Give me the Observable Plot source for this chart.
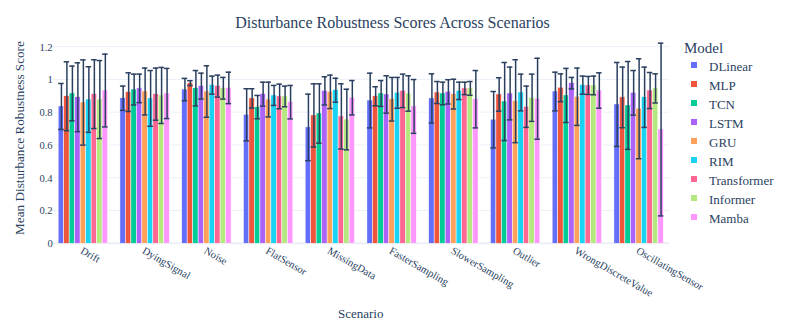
<!DOCTYPE html>
<html><head><meta charset="utf-8">
<script src="https://cdn.jsdelivr.net/npm/d3@7"></script>
<script src="https://cdn.jsdelivr.net/npm/@observablehq/plot@0.6"></script>
<style>body{margin:0;background:#fff} #chart{width:785px;height:327px}</style>
</head><body><div id="chart"></div>
<script>
const scenarios = ["Drift","DyingSignal","Noise","FlatSensor","MissingData","FasterSampling","SlowerSampling","Outlier","WrongDiscreteValue","OscillatingSensor"];
const models = ["DLinear","MLP","TCN","LSTM","GRU","RIM","Transformer","Informer","Mamba"];
const colors = ["#636efa","#EF553B","#00cc96","#ab63fa","#FFA15A","#19d3f3","#FF6692","#B6E880","#FF97FF"];
const yTicks = [0,0.2,0.4,0.6,0.8,1,1.2];
// mean score per scenario (rows) and model (columns)
const means = [
  [0.838,0.900,0.917,0.894,0.862,0.880,0.913,0.880,0.935],
  [0.888,0.925,0.941,0.948,0.929,0.887,0.913,0.905,0.917],
  [0.941,0.980,0.949,0.962,0.929,0.968,0.962,0.949,0.951],
  [0.787,0.887,0.834,0.913,0.880,0.905,0.899,0.899,0.864],
  [0.710,0.783,0.795,0.933,0.927,0.937,0.777,0.758,0.891],
  [0.874,0.900,0.917,0.911,0.882,0.921,0.933,0.917,0.838],
  [0.887,0.923,0.917,0.927,0.913,0.933,0.948,0.948,0.882],
  [0.757,0.911,0.868,0.917,0.870,0.923,0.836,0.891,0.885],
  [0.929,0.952,0.905,0.980,0.897,0.968,0.966,0.966,0.935],
  [0.850,0.893,0.844,0.921,0.824,0.894,0.935,0.948,0.697]
];
// standard deviation (error bar half-length)
const errs = [
  [0.140,0.210,0.167,0.210,0.260,0.200,0.210,0.238,0.222],
  [0.074,0.118,0.094,0.087,0.143,0.170,0.159,0.171,0.153],
  [0.068,0.015,0.108,0.079,0.157,0.055,0.067,0.066,0.096],
  [0.159,0.059,0.071,0.073,0.106,0.061,0.075,0.063,0.102],
  [0.203,0.193,0.181,0.086,0.102,0.073,0.199,0.185,0.105],
  [0.167,0.058,0.079,0.114,0.133,0.094,0.102,0.108,0.164],
  [0.150,0.067,0.069,0.074,0.091,0.053,0.038,0.042,0.175],
  [0.172,0.102,0.238,0.161,0.253,0.112,0.126,0.144,0.247],
  [0.118,0.085,0.165,0.035,0.175,0.055,0.055,0.057,0.108],
  [0.256,0.185,0.268,0.136,0.305,0.184,0.110,0.089,0.527]
];

const data = scenarios.flatMap((s,i) => models.map((m,j) => ({scenario:s, model:m, mean:means[i][j], err:errs[i][j]})));
const font = "'Liberation Serif','Times New Roman',serif";
const ink = "#2a3f5f";
const W = 785, H = 327, ML = 52, MR = 115.5, MT = 38.4, MB = 83.7;

const chart = Plot.plot({
  width: W, height: H, marginLeft: ML, marginRight: MR, marginTop: MT, marginBottom: MB,
  style: {fontFamily: font, fontSize: "10.6px", color: ink, background: "#fff"},
  fx: {domain: scenarios, paddingInner: 0.2, paddingOuter: 0.1, round: false, axis: null},
  x: {domain: models, padding: 0, round: false, axis: null},
  y: {domain: [0, 1.25], ticks: yTicks, tickFormat: d3.format("~g"), tickSize: 0, tickPadding: 6, label: null},
  color: {domain: models, range: colors},
  marks: [
    Plot.axisFx({anchor: "bottom", tickRotate: 30, tickSize: 0, tickPadding: 6, dx: -2, label: null}),
    Plot.barY(data, {fx: "scenario", x: "model", y: "mean", fill: "model", stroke: "white", strokeWidth: 0.5}),
    Plot.ruleX(data, {fx: "scenario", x: "model", y1: d => d.mean - d.err, y2: d => d.mean + d.err, stroke: ink, strokeWidth: 1.5}),
    Plot.tickY(data, {fx: "scenario", x: "model", y: d => d.mean + d.err, stroke: ink, strokeWidth: 1.5}),
    Plot.tickY(data, {fx: "scenario", x: "model", y: d => d.mean - d.err, stroke: ink, strokeWidth: 1.5})
  ]
});

const svg = d3.select(chart);
const y = chart.scale("y");
// full-width grid lines behind everything
const grid = svg.insert("g", ":first-child");
yTicks.forEach(t => {
  grid.append("line").attr("x1", ML).attr("x2", W - MR)
    .attr("y1", y.apply(t)).attr("y2", y.apply(t))
    .attr("stroke", "#ebf0f8").attr("stroke-width", t === 0 ? 2 : 1);
});
svg.selectAll("text").attr("fill", ink);

// title
svg.append("text").attr("x", W/2).attr("y", 28).attr("text-anchor", "middle")
  .attr("font-family", font).attr("font-size", 16).attr("fill", ink)
  .text("Disturbance Robustness Scores Across Scenarios");
// axis titles
svg.append("text").attr("transform", "translate(24,138) rotate(-90)").attr("text-anchor", "middle")
  .attr("font-family", font).attr("font-size", 13.2).attr("fill", ink)
  .text("Mean Disturbance Robustness Score");
svg.append("text").attr("x", (ML + W - MR)/2).attr("y", 318).attr("text-anchor", "middle")
  .attr("font-family", font).attr("font-size", 13).attr("fill", ink)
  .text("Scenario");
// legend
const lg = svg.append("g").attr("font-family", font).attr("fill", ink).attr("text-anchor", "start");
lg.append("text").attr("x", 684).attr("y", 52.5).attr("font-size", 15).text("Model");
models.forEach((m, i) => {
  const by = 70.5 + 19 * i;
  lg.append("rect").attr("x", 691).attr("y", by - 8.5).attr("width", 6).attr("height", 6).attr("fill", colors[i]);
  lg.append("text").attr("x", 709).attr("y", by).attr("font-size", 13).text(m);
});

document.getElementById("chart").append(chart);
</script>
</body></html>
